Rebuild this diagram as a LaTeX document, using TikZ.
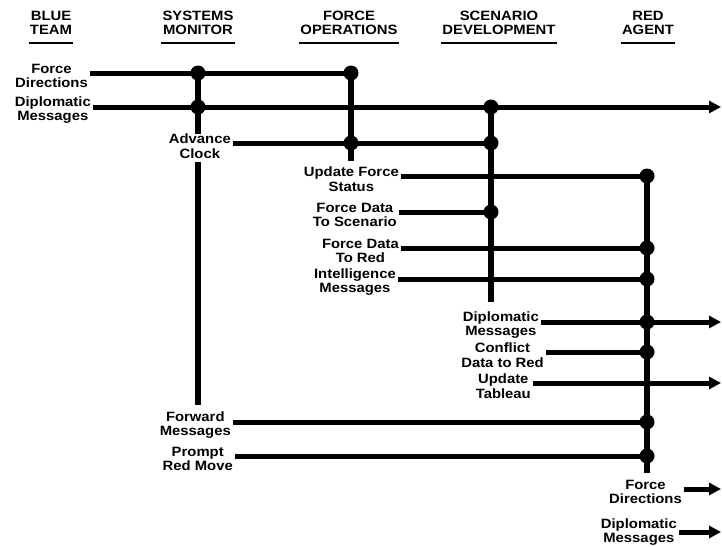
\documentclass[tikz,border=0pt]{standalone}
\usepackage{fontspec}
\newfontfamily\helv{Liberation Sans}[FakeStretch=1.1]
\usepackage{tikz}
\usetikzlibrary{arrows.meta}

\begin{document}
\begin{tikzpicture}[
    x=1pt, y=-1pt,
    txt/.style={font=\helv\bfseries\fontsize{13.5}{14.5}\selectfont, align=center},
    head/.style={txt, anchor=south, inner xsep=1pt, inner ysep=0pt},
    lbl/.style={txt, anchor=east, inner xsep=2pt, inner ysep=0pt, yshift=-3pt},
    junc/.style={circle, fill=black, inner sep=0pt, minimum size=15pt},
    uline/.style={line width=1.8pt},
    flow/.style={line width=5pt},
    arrow/.style={flow, -{Triangle[length=12pt, width=12pt]}},
    bus/.style={line width=6pt},
]
\useasboundingbox (0,0) rectangle (722,546);

\node[head] (hBlue) at (51,35)  {BLUE\\TEAM};
\node[head] (hMon)  at (198,35) {SYSTEMS\\MONITOR};
\node[head] (hOps)  at (349,35) {FORCE\\OPERATIONS};
\node[head] (hScen) at (499,35) {SCENARIO\\DEVELOPMENT};
\node[head] (hRed)  at (648,35) {RED\\AGENT};

\draw[uline] ([yshift=-8pt]hBlue.south west) -- ([yshift=-8pt]hBlue.south east);
\draw[uline] ([yshift=-8pt]hMon.south west)  -- ([yshift=-8pt]hMon.south east);
\draw[uline] ([yshift=-8pt]hOps.south west)  -- ([yshift=-8pt]hOps.south east);
\draw[uline] ([yshift=-8pt]hScen.south west) -- ([yshift=-8pt]hScen.south east);
\draw[uline] ([yshift=-8pt]hRed.south west)  -- ([yshift=-8pt]hRed.south east);

% message labels
\node[lbl] (lForce)  at (90,73)   {Force\\Directions};
\node[lbl] (lDipl)   at (93,107)  {Diplomatic\\Messages};
\node[lbl] (lClock)  at (233,143) {Advance\\Clock};
\node[lbl] (lStatus) at (401,176) {Update Force\\Status};
\node[lbl] (lToScen) at (399,212) {Force Data\\To Scenario};
\node[lbl] (lToRed)  at (401,248) {Force Data\\To Red};
\node[lbl] (lIntel)  at (398,279) {Intelligence\\Messages};
\node[lbl] (lDipl2)  at (541,322) {Diplomatic\\Messages};
\node[lbl] (lConfl)  at (546,352) {Conflict\\Data to Red};
\node[lbl] (lTabl)   at (533,383) {Update\\Tableau};
\node[lbl] (lFwd)    at (233,422) {Forward\\Messages};
\node[lbl] (lPrompt) at (235,456) {Prompt\\Red Move};
\node[lbl] (lForce2) at (684,489) {Force\\Directions};
\node[lbl] (lDipl3)  at (679,529) {Diplomatic\\Messages};

% junctions
\node[junc] (jMon1)  at (198,73)  {};
\node[junc] (jMon2)  at (198,107) {};
\node[junc] (jOps1)  at (351,73)  {};
\node[junc] (jOps2)  at (351,143) {};
\node[junc] (jScen1) at (491,107) {};
\node[junc] (jScen2) at (491,143) {};
\node[junc] (jScen3) at (491,212) {};
\node[junc] (jRed1)  at (647,176) {};
\node[junc] (jRed2)  at (647,248) {};
\node[junc] (jRed3)  at (647,279) {};
\node[junc] (jRed4)  at (647,322) {};
\node[junc] (jRed5)  at (647,352) {};
\node[junc] (jRed6)  at (647,422) {};
\node[junc] (jRed7)  at (647,456) {};

\coordinate (oDipl)   at (721,107);
\coordinate (oDipl2)  at (721,322);
\coordinate (oTabl)   at (721,383);
\coordinate (oForce2) at (721,489);
\coordinate (oDipl3)  at (721,532);

\draw[bus] (jMon1.center) -- (lClock.north -| jMon1);
\draw[bus, shorten <=4pt, shorten >=6pt] (lClock.south -| jMon1) -- (lFwd.north -| jMon1);
\draw[bus, shorten >=6pt] (jOps1.center) -- (lStatus.north -| jOps1);
\draw[bus, shorten >=9pt] (jScen1.center) -- (lDipl2.north -| jScen1);
\draw[bus, shorten >=7pt] (jRed1.center) -- (lForce2.north -| jRed1);

\draw[flow]  (lForce.east |- jMon1)   -- (jOps1.center);
\draw[arrow] (lDipl.east |- jMon2)    -- (oDipl);
\draw[flow]  (lClock.east |- jOps2)   -- (jScen2.center);
\draw[flow]  (lStatus.east |- jRed1)  -- (jRed1.center);
\draw[flow]  (lToScen.east |- jScen3) -- (jScen3.center);
\draw[flow]  (lToRed.east |- jRed2)   -- (jRed2.center);
\draw[flow]  (lIntel.east |- jRed3)   -- (jRed3.center);
\draw[arrow] (lDipl2.east |- jRed4)   -- (oDipl2);
\draw[flow]  (lConfl.east |- jRed5)   -- (jRed5.center);
\draw[arrow] (lTabl.east |- oTabl)    -- (oTabl);
\draw[flow]  (lFwd.east |- jRed6)     -- (jRed6.center);
\draw[flow]  (lPrompt.east |- jRed7)  -- (jRed7.center);
\draw[arrow] (lForce2.east |- oForce2) -- (oForce2);
\draw[arrow] (lDipl3.east |- oDipl3)  -- (oDipl3);

\end{tikzpicture}
\end{document}
